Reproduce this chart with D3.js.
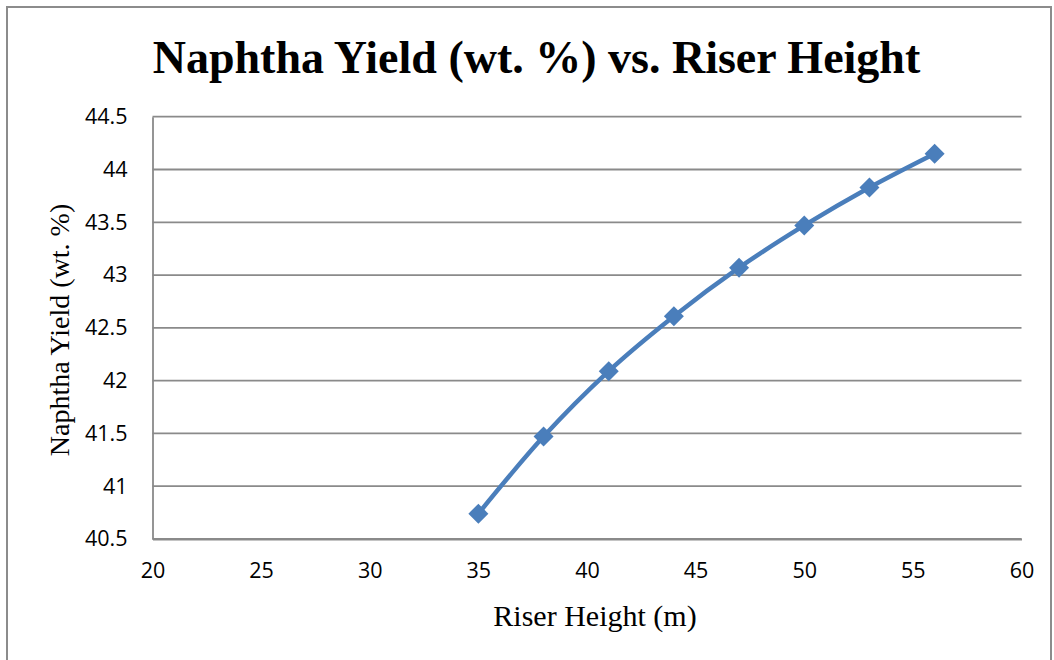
<!DOCTYPE html>
<html>
<head>
<meta charset="utf-8">
<script src="https://cdn.jsdelivr.net/npm/d3@7"></script>
<style>
  body { margin: 0; background: #fff; }
  svg { display: block; }
</style>
</head>
<body>
<div id="chart"></div>
<script>
// Data
const riserHeight = [35, 38, 41, 44, 47, 50, 53, 56];
const naphthaYield = [40.74, 41.47, 42.09, 42.61, 43.07, 43.47, 43.83, 44.15];
const xTicks = [20, 25, 30, 35, 40, 45, 50, 55, 60];
const yTicks = [40.5, 41, 41.5, 42, 42.5, 43, 43.5, 44, 44.5];

const w = 1054;
const h = 660;
const plotLeft = 152.5, plotRight = 1021.5, plotTop = 116.7, plotBottom = 539;

const svg = d3.select("#chart")
  .append("svg")
  .attr("width", w)
  .attr("height", h);

// Outer chart border
svg.append("rect")
  .attr("x", 7)
  .attr("y", 7)
  .attr("width", w - 10)
  .attr("height", h)
  .attr("fill", "none")
  .attr("stroke", "#8c8c8c")
  .attr("stroke-width", 2);

const xScale = d3.scaleLinear().domain([20, 60]).range([plotLeft, plotRight]);
const yScale = d3.scaleLinear().domain([40.5, 44.5]).range([plotBottom, plotTop]);

// Horizontal gridlines
svg.append("g")
  .selectAll("line")
  .data(yTicks)
  .enter()
  .append("line")
  .attr("x1", plotLeft)
  .attr("x2", plotRight)
  .attr("y1", d => yScale(d))
  .attr("y2", d => yScale(d))
  .attr("stroke", "#8a8a8a")
  .attr("stroke-width", 1.8);

// Axes (no tick marks, only labels)
const xAxis = d3.axisBottom(xScale).tickValues(xTicks).tickSize(0).tickPadding(24).tickFormat(d3.format("d"));
const yAxis = d3.axisLeft(yScale).tickValues(yTicks).tickSize(0).tickPadding(25).tickFormat(d => d);

const gx = svg.append("g")
  .attr("transform", "translate(0," + plotBottom + ")")
  .call(xAxis);
const gy = svg.append("g")
  .attr("transform", "translate(" + plotLeft + ",0)")
  .call(yAxis);

[gx, gy].forEach(g => {
  g.select(".domain").attr("stroke", "#8a8a8a").attr("stroke-width", 1.8);
  g.selectAll("text")
    .attr("fill", "#000")
    .style("font-family", "'Open Sans', sans-serif")
    .style("font-size", "21.5px");
});

// Smoothed series line
const line = d3.line()
  .x(d => xScale(d[0]))
  .y(d => yScale(d[1]))
  .curve(d3.curveCatmullRom.alpha(0));

const points = riserHeight.map((x, i) => [x, naphthaYield[i]]);

svg.append("path")
  .datum(points)
  .attr("d", line)
  .attr("fill", "none")
  .attr("stroke", "#4a7ebb")
  .attr("stroke-width", 4.5);

// Diamond markers
svg.selectAll(".marker")
  .data(points)
  .enter()
  .append("path")
  .attr("class", "marker")
  .attr("d", d3.symbol().type(d3.symbolSquare).size(200))
  .attr("transform", d => "translate(" + xScale(d[0]) + "," + yScale(d[1]) + ") rotate(45)")
  .attr("fill", "#4a7ebb");

// Title and axis titles
svg.append("text")
  .attr("x", 536.5)
  .attr("y", 73)
  .attr("text-anchor", "middle")
  .style("font-family", "'Liberation Serif', 'Times New Roman', serif")
  .style("font-weight", "bold")
  .style("font-size", "46px")
  .text("Naphtha Yield (wt. %) vs. Riser Height");

svg.append("text")
  .attr("x", 595)
  .attr("y", 626)
  .attr("text-anchor", "middle")
  .style("font-family", "'Liberation Serif', 'Times New Roman', serif")
  .style("font-size", "30px")
  .text("Riser Height (m)");

svg.append("text")
  .attr("transform", "translate(69,330) rotate(-90)")
  .attr("text-anchor", "middle")
  .style("font-family", "'Liberation Serif', 'Times New Roman', serif")
  .style("font-size", "28px")
  .text("Naphtha Yield (wt. %)");
</script>
</body>
</html>
